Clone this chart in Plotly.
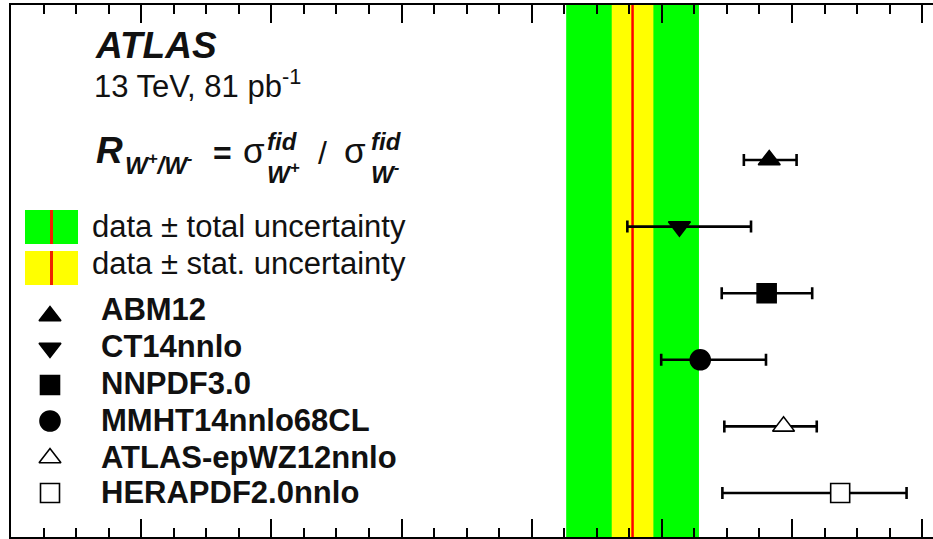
import plotly.graph_objects as go

# Measured W+/W- fiducial cross-section ratio (13 TeV, 81 pb^-1)
data_ratio = 1.2955
data_stat = 0.0032
data_total = 0.0102

# NNLO predictions for the ratio with different PDF sets
pdf_sets = ["ABM12", "CT14nnlo", "NNPDF3.0", "MMHT14nnlo68CL",
            "ATLAS-epWZ12nnlo", "HERAPDF2.0nnlo"]
pred_ratio = [1.3165, 1.3027, 1.3161, 1.3059, 1.3187, 1.3274]
pred_err_lo = [0.0039, 0.0080, 0.0069, 0.0060, 0.0091, 0.0181]
pred_err_hi = [0.0042, 0.0110, 0.0070, 0.0101, 0.0051, 0.0102]
row_pos = [6, 5, 4, 3, 2, 1]

symbols = ["triangle-up", "triangle-down", "square", "circle",
           "triangle-up", "square"]
fills = ["#000000", "#000000", "#000000", "#000000", "#ffffff", "#ffffff"]
sizes = [19, 19, 19, 20, 19, 19]

FONT = "Liberation Sans"
W, H = 933, 539
ML, MR, MT, MB = 11, 0, 5, 2
PW, PH = W - ML - MR, H - MT - MB
PX_PER_UNIT = 6508.5
X_MIN = 1.20
X_MAX = X_MIN + PW / PX_PER_UNIT


def fx(px):
    return (px - ML) / PW


def fy(py):
    return (H - MB - py) / PH


fig = go.Figure()

# predictions with asymmetric PDF uncertainties
fig.add_trace(go.Scatter(
    x=pred_ratio, y=row_pos, mode="markers",
    marker=dict(symbol=symbols, color=fills, size=sizes, opacity=1,
                line=dict(color="#000000", width=1.6)),
    error_x=dict(type="data", symmetric=False, array=pred_err_hi,
                 arrayminus=pred_err_lo, color="#000000", thickness=2.6,
                 width=6),
    opacity=1, showlegend=False, hoverinfo="skip",
))

# legend glyphs on an auxiliary unit axis
leg_x = [fx(50)] * len(pdf_sets)
leg_y = [fy(v) for v in (316, 348, 385, 421, 458, 493)]
fig.add_trace(go.Scatter(
    x=leg_x, y=leg_y, xaxis="x2", yaxis="y2", mode="markers",
    marker=dict(symbol=symbols, color=fills, size=sizes, opacity=1,
                line=dict(color="#000000", width=1.6)),
    opacity=1, showlegend=False, hoverinfo="skip",
))

shapes = [
    dict(type="rect", xref="x", yref="paper",
         x0=data_ratio - data_total, x1=data_ratio + data_total,
         y0=0, y1=1, fillcolor="#00ff00", line_width=0, layer="below"),
    dict(type="rect", xref="x", yref="paper",
         x0=data_ratio - data_stat, x1=data_ratio + data_stat,
         y0=0, y1=1, fillcolor="#ffff00", line_width=0, layer="below"),
    dict(type="line", xref="x", yref="paper", x0=data_ratio, x1=data_ratio,
         y0=0, y1=1, line=dict(color="#ff0000", width=2.5), layer="below"),
]
# legend boxes for the data bands
for (top, bot, col) in ((210, 244, "#00ff00"), (251, 285, "#ffff00")):
    shapes.append(dict(type="rect", xref="paper", yref="paper",
                       x0=fx(25), x1=fx(78), y0=fy(bot), y1=fy(top),
                       fillcolor=col, line_width=0))
    shapes.append(dict(type="line", xref="paper", yref="paper",
                       x0=fx(51.5), x1=fx(51.5), y0=fy(bot), y1=fy(top),
                       line=dict(color="#ee2200", width=3)))

annotations = []


def note(text, px, py, size, anchor="middle"):
    annotations.append(dict(
        text=text, x=fx(px), y=fy(py), xref="paper", yref="paper",
        xanchor="left", yanchor=anchor, showarrow=False, borderpad=0,
        font=dict(family=FONT, size=size, color="#111111")))


note("<b><i>ATLAS</i></b>", 94, 46, 37)
note("13 TeV, 81 pb<sup>-1</sup>", 93, 84, 31)

# ratio definition; superscript "fid" stacked over the subscript
note("<b><i>R</i></b>", 95, 150, 37)
note("<b><i>W<sup>+</sup>/W<sup>-</sup></i></b>", 124, 164, 24)
note("<b>=</b>", 212, 153, 32)
note("σ", 242, 150, 35)
note("<b><i>fid</i></b>", 266, 155.5, 24, anchor="bottom")
note("<b><i>W<sup>+</sup></i></b>", 266, 156.5, 24, anchor="top")
note("/", 317, 153, 32)
note("σ", 343, 150, 35)
note("<b><i>fid</i></b>", 370, 155.5, 24, anchor="bottom")
note("<b><i>W<sup>-</sup></i></b>", 370, 156.5, 24, anchor="top")

note("data ± total uncertainty", 91, 226, 31)
note("data ± stat. uncertainty", 91, 263, 31)
for name, yy in zip(pdf_sets, (310, 347, 383, 420, 457, 492)):
    note("<b>" + name + "</b>", 100, yy, 31)

fig.update_layout(
    width=W, height=H,
    margin=dict(l=ML, r=MR, t=MT, b=MB, pad=0),
    paper_bgcolor="white", plot_bgcolor="white",
    shapes=shapes, annotations=annotations,
    xaxis=dict(range=[X_MIN, X_MAX], showline=True, linewidth=2,
               linecolor="black", mirror="allticks", ticks="inside",
               ticklen=18, tickwidth=2, tickcolor="black", tick0=1.20,
               dtick=0.02, showticklabels=False, showgrid=False,
               zeroline=False,
               minor=dict(ticks="inside", ticklen=9, tickwidth=1.5,
                          tickcolor="black", tick0=1.20, dtick=0.005,
                          showgrid=False)),
    yaxis=dict(range=[0.339, 8.327], showline=True, linewidth=2,
               linecolor="black", mirror=False, ticks="",
               showticklabels=False, showgrid=False, zeroline=False),
    xaxis2=dict(range=[0, 1], overlaying="x", visible=False,
                fixedrange=True),
    yaxis2=dict(range=[0, 1], overlaying="y", visible=False,
                fixedrange=True),
)

fig.write_html("out.html")
